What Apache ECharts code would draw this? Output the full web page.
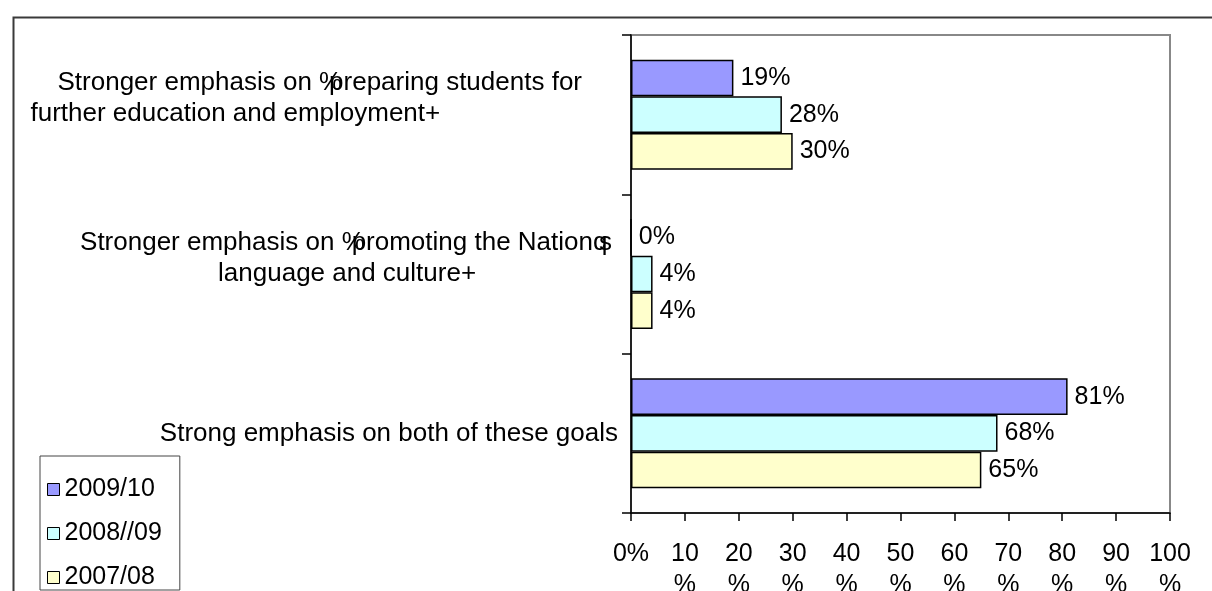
<!DOCTYPE html>
<html>
<head>
<meta charset="utf-8">
<script src="https://cdn.jsdelivr.net/npm/echarts@6/dist/echarts.min.js"></script>
<style>
html,body{margin:0;padding:0;background:#fff;}
#chart{width:1212px;height:591px;}
</style>
</head>
<body>
<div id="chart"></div>
<script>
// ---- data ----
const categories = [
  'Stronger emphasis on %preparing students for\nfurther education and employment+',
  'Stronger emphasis on %promoting the Nationqs\nlanguage and culture+',
  'Strong emphasis on both of these goals'
];
const seriesNames = ['2009/10', '2008//09', '2007/08'];
const values2009 = [19, 0, 81];
const values2008 = [28, 4, 68];
const values2007 = [30, 4, 65];
const xTickLabels = ['0%', '10\n%', '20\n%', '30\n%', '40\n%', '50\n%', '60\n%', '70\n%', '80\n%', '90\n%', '100\n%'];

// ---- styles ----
const FONT = '"Liberation Sans", Arial, sans-serif';
const FS = 25;
const CFS = 26;
const colors = ['#9999FF', '#CCFFFF', '#FFFFCC'];
const labelPads = [[0, 36, 33, 0], [0, 6, 31, 0], [0, 0, 0, 0]];
// leading indent (px) of each line, per category
const lineIndents = [[27, 0], [0, 138], [0]];

function toRich(line) {
  let s = line.replace('%', '}{ov|%}{l|');
  s = s.replace(/qs$/, '}{oq|q}{l|s');
  return '{l|' + s + '}';
}

const chart = echarts.init(document.getElementById('chart'), null, {renderer: 'canvas'});

const seriesValues = [values2009, values2008, values2007];
const series = seriesNames.map((name, i) => ({
  name: name,
  type: 'bar',
  data: seriesValues[i],
  barGap: '0%',
  barCategoryGap: '31%',
  itemStyle: {color: colors[i], borderColor: '#000', borderWidth: 1.5},
  label: {
    show: true, position: 'right', distance: 7,
    formatter: '{c}%', color: '#000', fontSize: FS, fontFamily: FONT
  },
  emphasis: {disabled: true}
}));

const richBase = {color: '#000', fontSize: CFS, fontFamily: FONT, lineHeight: 31, align: 'left'};
const rich = {
  l: Object.assign({}, richBase),
  ov: Object.assign({width: 10}, richBase),
  oq: Object.assign({width: 6}, richBase)
};
[27, 138].forEach(w => { rich['sp' + w] = Object.assign({width: w}, richBase); });

chart.setOption({
  animation: false,
  backgroundColor: '#fff',
  textStyle: {fontFamily: FONT, color: '#000'},
  graphic: [{
    type: 'rect', left: 11, top: 15, silent: true, z: -1,
    shape: {width: 1400, height: 800},
    style: {fill: 'none', stroke: '#3a3a3a', lineWidth: 2}
  }],
  grid: {
    left: 631, right: 42, top: 35, bottom: 78,
    containLabel: false, outerBoundsMode: 'none',
    show: true, borderColor: '#888', borderWidth: 2, backgroundColor: 'transparent'
  },
  legend: {
    orient: 'vertical', left: 40, top: 456,
    data: seriesNames,
    selectedMode: false,
    icon: 'rect', itemWidth: 12, itemHeight: 12, itemGap: 19,
    padding: [21, 18, 0, 7],
    borderColor: '#444', borderWidth: 1,
    itemStyle: {borderColor: '#000', borderWidth: 1},
    textStyle: {fontSize: FS, color: '#000', fontFamily: FONT, lineHeight: 25}
  },
  xAxis: {
    type: 'value', min: 0, max: 100, interval: 10,
    axisLine: {show: true, lineStyle: {color: '#000', width: 1.5}},
    axisTick: {show: true, length: 8, lineStyle: {color: '#000', width: 1.5}},
    splitLine: {show: false},
    axisLabel: {
      fontSize: FS, color: '#000', fontFamily: FONT, lineHeight: 31, margin: 26,
      formatter: (v) => xTickLabels[Math.round(v / 10)]
    }
  },
  yAxis: {
    type: 'category', inverse: true,
    data: categories.map((c, i) => ({value: c, textStyle: {padding: labelPads[i]}})),
    axisLine: {show: true, lineStyle: {color: '#000', width: 1.5}},
    axisTick: {show: true, length: 9, lineStyle: {color: '#000', width: 1.5}},
    splitLine: {show: false},
    axisLabel: {
      align: 'right', margin: 13, fontSize: CFS, color: '#000', fontFamily: FONT,
      formatter: (v, idx) => v.split('\n').map((l, j) => {
        const ind = lineIndents[idx][j];
        return (ind ? '{sp' + ind + '| }' : '') + toRich(l);
      }).join('\n'),
      rich: rich
    }
  },
  series: series
});
</script>
</body>
</html>
